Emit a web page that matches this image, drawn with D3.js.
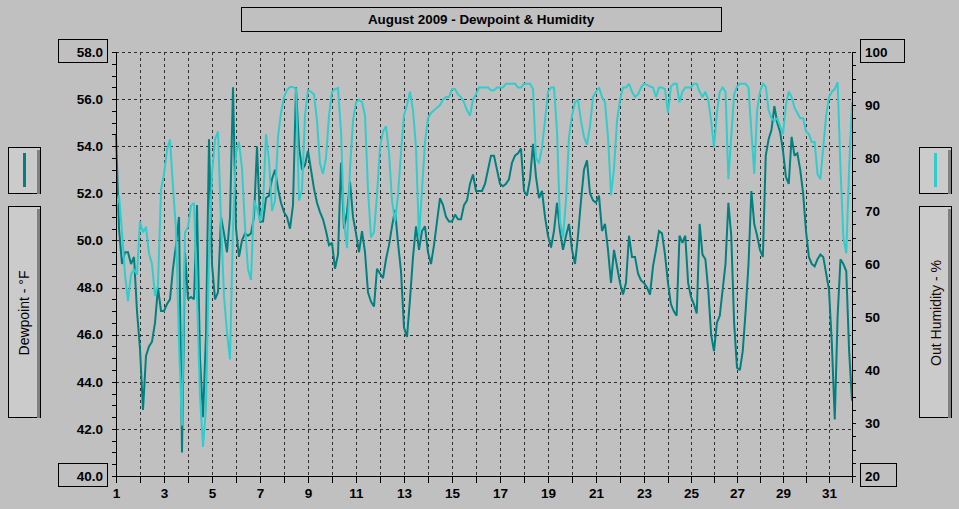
<!DOCTYPE html>
<html>
<head>
<meta charset="utf-8">
<script src="https://cdn.jsdelivr.net/npm/d3@7"></script>
<style>
  html, body { margin: 0; padding: 0; background: #c0c0c0; }
  svg { display: block; }
</style>
</head>
<body>
<svg id="chart" width="959" height="509"></svg>
<script>
// readings every 3 hours, Aug 1 00:00 .. Sep 1 00:00
const startDay = 1;
const stepDays = 1 / 8;

const dewpoint = [
  54.5, 50.5, 49.0, 49.5, 49.5, 49.0, 49.3, 47.0,
  45.4, 42.8, 45.1, 45.5, 45.7, 46.5, 48.0, 47.0,
  47.0, 47.3, 47.5, 48.8, 49.8, 51.0, 41.0, 49.5,
  47.5, 47.6, 47.5, 51.5, 45.0, 42.5, 46.0, 54.3,
  49.0, 47.5, 47.8, 51.0, 50.3, 49.5, 51.0, 56.5,
  50.5, 49.3, 50.0, 50.3, 50.2, 50.3, 51.0, 54.0,
  50.8, 50.8, 51.8, 51.9, 52.6, 53.0, 52.2, 51.6,
  51.2, 51.0, 50.5, 51.5, 56.5, 54.0, 53.0, 53.2,
  53.8, 53.0, 52.2, 51.6, 51.2, 50.9, 50.4, 49.8,
  49.9, 48.8, 49.4, 53.3, 50.5, 51.2, 52.5, 51.0,
  50.3, 49.5, 50.4, 49.5, 47.8, 47.4, 47.2, 48.8,
  48.6, 48.4, 49.2, 49.8, 50.6, 51.3, 49.9, 48.7,
  46.3, 45.9, 47.5, 49.3, 50.6, 49.6, 50.4, 50.6,
  49.5, 49.0, 49.8, 50.8, 51.8, 51.5, 51.0, 50.8,
  50.8, 51.1, 50.9, 50.9, 51.5, 51.7, 52.4, 52.8,
  52.1, 52.1, 52.1, 52.4, 53.0, 53.6, 53.6, 53.0,
  52.4, 52.3, 52.4, 52.6, 53.3, 53.6, 53.7, 53.9,
  52.1, 51.9, 52.6, 54.1, 52.7, 51.8, 52.1, 51.0,
  50.2, 49.7, 50.4, 51.6, 50.4, 49.6, 50.2, 50.7,
  49.6, 49.0, 50.2, 51.7, 53.0, 53.4, 52.0, 51.7,
  51.6, 51.9, 50.4, 50.7, 49.6, 48.2, 49.6, 48.9,
  48.2, 47.7, 48.2, 50.2, 49.3, 49.3, 48.6, 48.3,
  48.2, 48.0, 47.7, 48.9, 49.6, 50.4, 50.3, 49.4,
  48.2, 47.3, 47.0, 46.8, 50.2, 49.9, 50.2, 48.2,
  47.6, 47.3, 46.9, 50.7, 49.4, 49.2, 47.9, 46.0,
  45.3, 46.5, 46.8, 47.9, 49.0, 51.6, 50.2, 46.5,
  44.6, 44.5, 45.3, 47.0, 49.0, 52.1, 50.7, 50.2,
  49.6, 49.3, 53.6, 54.3, 54.7, 55.7, 55.0, 54.6,
  53.8, 52.7, 52.4, 54.4, 53.6, 53.7, 53.0, 52.0,
  50.4, 49.3, 49.0, 48.9, 49.2, 49.4, 49.3, 48.6,
  47.9, 45.6, 42.4, 46.8, 49.2, 49.0, 48.7, 45.3,
  43.2
];

const humidity = [
  70.5, 73, 66, 58, 53, 58, 59, 58,
  68, 66, 67, 62, 60, 54, 56, 74,
  77, 81.5, 83.5, 74.5, 66.5, 45, 29.5, 66,
  67, 71, 71.5, 54, 35, 25.5, 33, 62,
  77, 83.5, 85, 68, 54, 47, 42, 67,
  81, 83, 78, 67, 59, 57, 72, 70.5,
  68, 71, 84.5, 79.5, 70, 72, 84, 88.5,
  91.5, 92.8, 93.4, 93.4, 93, 72, 74, 88,
  92.8, 92.5, 92, 87, 79, 77, 80, 88,
  92.5, 93, 93.2, 85, 68, 63, 78, 87,
  90.5, 91, 90.5, 88, 74, 65, 66, 73,
  82, 85, 86, 81, 72, 68, 73, 81,
  88, 90, 92.5, 89, 82, 65, 74, 83,
  87.5, 88.5, 89, 89.5, 90, 91, 91.5, 91.5,
  93, 93, 92, 91.5, 90.5, 89, 88, 91,
  92, 93.3, 93.3, 93.3, 93.3, 92.8, 92.8, 93.3,
  93.3, 93.3, 94, 94, 94, 94, 93.3, 93.3,
  94, 94, 94, 93, 80, 79, 82, 87,
  92.5, 93.3, 93.3, 85, 68, 65, 72, 84,
  88, 90.5, 91, 87, 84, 82.5, 86, 91.5,
  92.5, 93.3, 91.5, 90.5, 84, 73, 78, 87,
  91, 93.3, 93.3, 94, 92.5, 91.5, 92, 93.3,
  94, 93.8, 93.5, 93.3, 91.5, 93.3, 93.3, 93,
  88.5, 93.5, 94, 94, 90.5, 92.5, 93.3, 93.3,
  93.3, 94, 94, 92.5, 91.5, 92.5, 91, 87,
  82, 88.5, 92.5, 93.3, 92.5, 76, 84, 92,
  93.5, 94, 94, 94, 93.3, 85, 77, 89,
  92.5, 94, 93.5, 89, 87.5, 87, 87.5, 86,
  84.5, 90, 92.5, 91.5, 89.5, 88.5, 87.5, 87.5,
  85, 84.5, 83, 83, 77, 76, 82, 88,
  91.5, 92.5, 93, 94.3, 78, 65, 62, 78,
  90.5
];

const dayTicks = d3.range(1, 33);
const dayLabels = d3.range(1, 32, 2);
const dewMajor = d3.range(40, 58.01, 2);
const dewMinor = d3.range(40, 58.01, 0.5);
const humMajor = d3.range(20, 100.01, 10);
const humMinor = d3.range(20, 100.01, 2.5);

const title = 'August 2009 - Dewpoint & Humidity';
const dewLabel = 'Dewpoint - °F';
const humLabel = 'Out Humidity - %';
const dewColor = '#008080';
const humColor = '#33cccc';

(function(){
  const svg = d3.select('#chart');
  const left = 116, right = 852, top = 52, bottom = 476;
  const boldFont = '"Liberation Sans", Arial, sans-serif';

  // the program spaces days 24 px apart up to the 24th and 23 px after it
  const x = d3.scaleLinear().domain([1, 24, 32]).range([left, 668, right]);
  const yDew = d3.scaleLinear().domain([40, 58]).range([bottom, top]);
  const yHum = d3.scaleLinear().domain([20, 100]).range([bottom, top]);

  // title box
  svg.append('rect').attr('x', 241.5).attr('y', 7.5).attr('width', 480).attr('height', 24)
    .attr('fill', '#c0c0c0').attr('stroke', '#000');
  svg.append('text').attr('x', 481).attr('y', 23.5)
    .attr('text-anchor', 'middle').style('font', `bold 13.4px ${boldFont}`).attr('fill', '#000')
    .text(title);

  // grid
  const grid = svg.append('g').attr('stroke', '#303030').attr('stroke-dasharray', '3,3')
    .attr('shape-rendering', 'crispEdges');
  grid.selectAll('line.h').data(dewMajor.filter(d => d > 40)).join('line')
    .attr('x1', left).attr('x2', right)
    .attr('y1', d => Math.round(yDew(d)) + 0.5).attr('y2', d => Math.round(yDew(d)) + 0.5);
  grid.selectAll('line.v').data(dayTicks.filter(d => d > 1 && d < 32)).join('line')
    .attr('class', 'v')
    .attr('y1', top).attr('y2', bottom)
    .attr('x1', d => Math.round(x(d)) + 0.5).attr('x2', d => Math.round(x(d)) + 0.5);

  // value boxes at the axis ends
  const box = (bx, by, w, h) => svg.append('rect').attr('x', bx + 0.5).attr('y', by + 0.5)
    .attr('width', w).attr('height', h).attr('fill', 'none').attr('stroke', '#000')
    .attr('shape-rendering', 'crispEdges');
  box(58, 39, 49, 23);
  box(58, 463, 49, 23);
  box(860, 39, 44, 23);
  box(860, 463, 36, 23);

  // lines
  const dewData = dewpoint.map((v, i) => ({day: startDay + i * stepDays, v}));
  const humData = humidity.map((v, i) => ({day: startDay + i * stepDays, v}));

  svg.append('path').datum(dewData)
    .attr('fill', 'none').attr('stroke', dewColor).attr('stroke-width', 2)
    .attr('stroke-linejoin', 'miter').attr('stroke-miterlimit', 2)
    .attr('d', d3.line().x(d => x(d.day)).y(d => yDew(d.v)));

  svg.append('path').datum(humData)
    .attr('fill', 'none').attr('stroke', humColor).attr('stroke-width', 2)
    .attr('stroke-linejoin', 'miter').attr('stroke-miterlimit', 2)
    .attr('d', d3.line().x(d => x(d.day)).y(d => yHum(d.v)));

  // axes
  const styleAxis = g => {
    g.attr('font-family', null).attr('font-size', null);
    g.select('.domain').remove();
    g.selectAll('line').attr('stroke', '#000').attr('shape-rendering', 'crispEdges');
    g.selectAll('text').style('font', `bold 13.5px ${boldFont}`).attr('fill', '#000');
  };

  svg.append('g').attr('transform', `translate(${left},0)`)
    .call(d3.axisLeft(yDew).tickValues(dewMinor).tickSize(4).tickPadding(9)
      .tickFormat(d => d % 2 === 0 ? d3.format('.1f')(d) : ''))
    .call(styleAxis);

  svg.append('g').attr('transform', `translate(${right},0)`)
    .call(d3.axisRight(yHum).tickValues(humMinor).tickSize(4).tickPadding(9)
      .tickFormat(d => d % 10 === 0 ? d : ''))
    .call(styleAxis);

  svg.append('g').attr('transform', `translate(0,${bottom})`)
    .call(d3.axisBottom(x).tickValues(dayTicks).tickSize(7).tickPadding(5)
      .tickFormat(d => dayLabels.includes(d) ? d : ''))
    .call(styleAxis);

  // axis frame lines
  const frame = svg.append('g').attr('stroke', '#000').attr('shape-rendering', 'crispEdges');
  frame.append('line').attr('x1', left + 0.5).attr('x2', left + 0.5).attr('y1', top).attr('y2', bottom + 7);
  frame.append('line').attr('x1', right + 0.5).attr('x2', right + 0.5).attr('y1', top).attr('y2', bottom + 7);
  frame.append('line').attr('x1', left).attr('x2', right + 1).attr('y1', bottom + 0.5).attr('y2', bottom + 0.5);

  // legend and axis-title panels
  const panel = (px, py, w, h) => {
    const g = svg.append('g').attr('shape-rendering', 'crispEdges');
    g.append('rect').attr('x', px + 0.5).attr('y', py + 0.5).attr('width', w).attr('height', h)
      .attr('fill', '#cbcbcb').attr('stroke', '#000');
    g.append('rect').attr('x', px + w - 3).attr('y', py + 3).attr('width', 3).attr('height', h - 2.5)
      .attr('fill', '#808080');
    return g;
  };

  const swatch = (g, sx, color) => g.append('line')
    .attr('x1', sx).attr('x2', sx).attr('y1', 153).attr('y2', 187)
    .attr('stroke', color).attr('stroke-width', 3).attr('shape-rendering', 'auto');

  swatch(panel(8, 147, 32, 46), 24.5, dewColor);
  swatch(panel(919, 147, 32, 46), 935.5, humColor);

  panel(8, 206, 32, 211).append('text')
    .attr('transform', 'translate(29,313) rotate(-90)')
    .attr('text-anchor', 'middle').style('font', '14px "Liberation Sans", Arial, sans-serif')
    .attr('fill', '#000').text(dewLabel);

  panel(919, 206, 32, 211).append('text')
    .attr('transform', 'translate(940.5,313) rotate(-90)')
    .attr('text-anchor', 'middle').style('font', '14px "Liberation Sans", Arial, sans-serif')
    .attr('fill', '#1a0800').text(humLabel);
})();
</script>
</body>
</html>
